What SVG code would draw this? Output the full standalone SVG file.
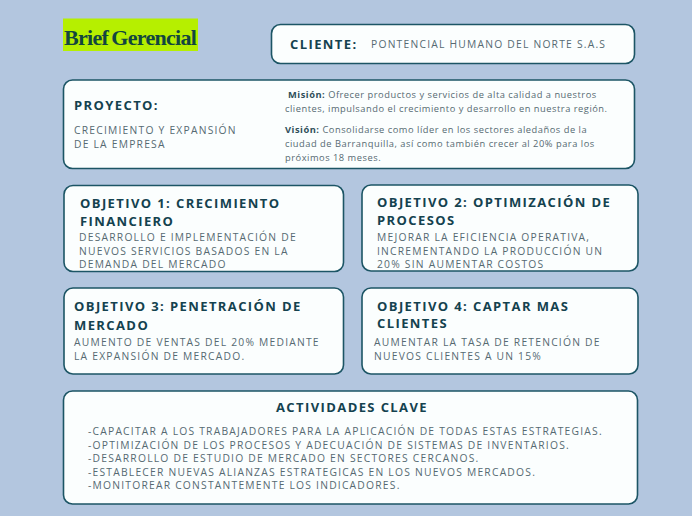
<svg xmlns="http://www.w3.org/2000/svg" width="692" height="516" viewBox="0 0 692 516">
<style>
text{font-family:"Open Sans","Noto Sans",sans-serif;fill:#566a72;white-space:pre}
.box{fill:#fbfefe;stroke:#1c5565;stroke-width:1.6}
.h{font-weight:700;fill:#14424f;font-size:13px;letter-spacing:1.4px}
.b{font-size:10.3px;letter-spacing:1.22px}
.m{font-size:9.3px;letter-spacing:.52px}
.s{font-weight:700;fill:#2f4f5a}
</style>
<rect width="692" height="516" fill="#b3c6df"/>
<g id="logo">
<rect x="63" y="18.500" width="135" height="32.500" fill="#b6ef00"/>
<text x="64" y="45" style="font-family:'Liberation Serif',serif;font-weight:700;font-size:22px;letter-spacing:-.72px;word-spacing:-1.5px;fill:#12463f">Brief Gerencial</text>
</g>
<g id="cliente">
<rect class="box" x="271.500" y="24.500" width="363" height="39" rx="9"/>
<text class="h" x="290" y="49">CLIENTE:</text>
<text class="b" x="371" y="48">PONTENCIAL HUMANO DEL NORTE S.A.S</text>
</g>
<g id="proyecto">
<rect class="box" x="63.500" y="80" width="571" height="88.500" rx="9"/>
<text class="h" x="74" y="110">PROYECTO:</text>
<text class="b" x="74" y="134">CRECIMIENTO Y EXPANSIÓN</text>
<text class="b" x="74" y="148">DE LA EMPRESA</text>
<text class="m" x="288" y="98"><tspan class="s">Misión:</tspan> Ofrecer productos y servicios de alta calidad a nuestros</text>
<text class="m" x="285" y="112">clientes, impulsando el crecimiento y desarrollo en nuestra región.</text>
<text class="m" x="285" y="133"><tspan class="s">Visión:</tspan> Consolidarse como líder en los sectores aledaños de la</text>
<text class="m" x="285" y="147">ciudad de Barranquilla, así como también crecer al 20% para los</text>
<text class="m" x="285" y="161">próximos 18 meses.</text>
</g>
<g id="objetivo1">
<rect class="box" x="64" y="185.500" width="279.500" height="86" rx="9"/>
<text class="h" x="80" y="208">OBJETIVO 1: CRECIMIENTO</text>
<text class="h" x="80" y="226">FINANCIERO</text>
<text class="b" x="79" y="241">DESARROLLO E IMPLEMENTACIÓN DE</text>
<text class="b" x="79" y="255">NUEVOS SERVICIOS BASADOS EN LA</text>
<text class="b" x="79" y="268">DEMANDA DEL MERCADO</text>
</g>
<g id="objetivo2">
<rect class="box" x="362" y="185" width="276" height="86" rx="9"/>
<text class="h" x="377" y="207">OBJETIVO 2: OPTIMIZACIÓN DE</text>
<text class="h" x="377" y="225">PROCESOS</text>
<text class="b" x="377" y="241">MEJORAR LA EFICIENCIA OPERATIVA,</text>
<text class="b" x="377" y="255">INCREMENTANDO LA PRODUCCIÓN UN</text>
<text class="b" x="377" y="268">20% SIN AUMENTAR COSTOS</text>
</g>
<g id="objetivo3">
<rect class="box" x="64" y="288" width="279.500" height="86" rx="9"/>
<text class="h" x="74" y="311">OBJETIVO 3: PENETRACIÓN DE</text>
<text class="h" x="74" y="330">MERCADO</text>
<text class="b" x="74" y="346">AUMENTO DE VENTAS DEL 20% MEDIANTE</text>
<text class="b" x="74" y="360">LA EXPANSIÓN DE MERCADO.</text>
</g>
<g id="objetivo4">
<rect class="box" x="362" y="288" width="276" height="86" rx="9"/>
<text class="h" x="377" y="311">OBJETIVO 4: CAPTAR MAS</text>
<text class="h" x="377" y="328">CLIENTES</text>
<text class="b" x="374" y="346">AUMENTAR LA TASA DE RETENCIÓN DE</text>
<text class="b" x="374" y="360">NUEVOS CLIENTES A UN 15%</text>
</g>
<g id="actividades">
<rect class="box" x="63.500" y="391" width="574" height="113" rx="9"/>
<text class="h" x="276" y="412">ACTIVIDADES CLAVE</text>
<text class="b" x="88" y="435">-CAPACITAR A LOS TRABAJADORES PARA LA APLICACIÓN DE TODAS ESTAS ESTRATEGIAS.</text>
<text class="b" x="88" y="449">-OPTIMIZACIÓN DE LOS PROCESOS Y ADECUACIÓN DE SISTEMAS DE INVENTARIOS.</text>
<text class="b" x="88" y="462">-DESARROLLO DE ESTUDIO DE MERCADO EN SECTORES CERCANOS.</text>
<text class="b" x="88" y="476">-ESTABLECER NUEVAS ALIANZAS ESTRATEGICAS EN LOS NUEVOS MERCADOS.</text>
<text class="b" x="88" y="489">-MONITOREAR CONSTANTEMENTE LOS INDICADORES.</text>
</g>
</svg>
